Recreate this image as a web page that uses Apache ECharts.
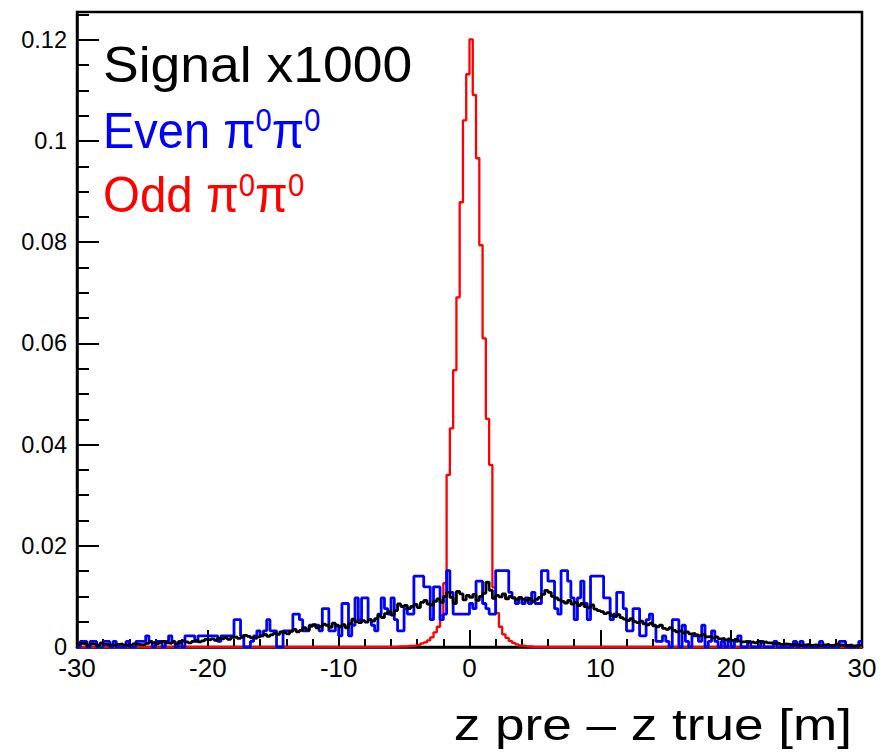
<!DOCTYPE html>
<html>
<head>
<meta charset="utf-8">
<script src="https://cdn.jsdelivr.net/npm/echarts@6/dist/echarts.min.js"></script>
<style>
html,body{margin:0;padding:0;background:#fff;}
#chart{width:881px;height:754px;}
</style>
</head>
<body>
<div id="chart"></div>
<script>
// Histogram binning: 240 bins of width 0.25 from -30 to 30
const xMin = -30, xMax = 30, binWidth = 0.25;
const xTicks = [-30, -20, -10, 0, 10, 20, 30];
const yTicks = [0, 0.02, 0.04, 0.06, 0.08, 0.1, 0.12];
const legendLabels = ["Signal x1000", "Even π", "Odd π"];
const xTitle = "z pre \u2013 z true [m]";

// Signal x1000 (black)
const signalVals = [
0.0005,0.0007,0.0006,0.0004,0.0006,0.0005,0.0003,0.0008,0.0005,0.0004,
0.0004,0.0003,0.0005,0.0006,0.0004,0.0003,0.0004,0.0006,0.0005,0.0004,
0.0005,0.0007,0.0010,0.0008,0.0006,0.0009,0.0011,0.0008,0.0007,0.0010,
0.0006,0.0009,0.0012,0.0010,0.0008,0.0011,0.0013,0.0010,0.0012,0.0015,
0.0014,0.0016,0.0013,0.0017,0.0016,0.0018,0.0015,0.0019,0.0020,0.0017,
0.0019,0.0023,0.0021,0.0018,0.0017,0.0020,0.0022,0.0025,0.0021,0.0024,
0.0027,0.0025,0.0030,0.0028,0.0026,0.0031,0.0035,0.0030,0.0033,0.0038,
0.0034,0.0041,0.0044,0.0038,0.0040,0.0045,0.0043,0.0039,0.0047,0.0042,
0.0040,0.0044,0.0038,0.0046,0.0055,0.0050,0.0048,0.0052,0.0049,0.0054,
0.0051,0.0056,0.0062,0.0058,0.0066,0.0070,0.0063,0.0072,0.0085,0.0080,
0.0082,0.0076,0.0080,0.0084,0.0078,0.0088,0.0092,0.0085,0.0083,0.0090,
0.0095,0.0088,0.0100,0.0108,0.0098,0.0086,0.0110,0.0105,0.0093,0.0102,
0.0098,0.0104,0.0092,0.0100,0.0106,0.0128,0.0112,0.0096,0.0102,0.0099,
0.0105,0.0095,0.0100,0.0097,0.0093,0.0098,0.0094,0.0092,0.0096,0.0090,
0.0094,0.0098,0.0104,0.0112,0.0108,0.0100,0.0097,0.0093,0.0090,0.0087,
0.0092,0.0085,0.0088,0.0082,0.0086,0.0080,0.0078,0.0083,0.0075,0.0072,
0.0070,0.0066,0.0068,0.0062,0.0060,0.0064,0.0058,0.0055,0.0052,0.0056,
0.0050,0.0048,0.0051,0.0046,0.0044,0.0047,0.0042,0.0040,0.0043,0.0037,
0.0035,0.0038,0.0033,0.0030,0.0032,0.0028,0.0030,0.0026,0.0027,0.0024,
0.0022,0.0025,0.0020,0.0021,0.0018,0.0020,0.0016,0.0017,0.0014,0.0016,
0.0013,0.0015,0.0012,0.0010,0.0011,0.0009,0.0010,0.0008,0.0011,0.0009,
0.0010,0.0008,0.0007,0.0006,0.0007,0.0005,0.0006,0.0005,0.0004,0.0005,
0.0004,0.0003,0.0004,0.0005,0.0003,0.0004,0.0003,0.0002,0.0004,0.0005,
0.0003,0.0004,0.0006,0.0004,0.0003,0.0003,0.0004,0.0002,0.0003,0.0004
];

// Even pi0pi0 (blue)
const evenVals = [
0,0.0011,0.0011,0,0.0011,0.0011,0,0,0.0011,0.0011,
0,0.0011,0,0,0,0.0011,0,0,0.0011,0.0011,
0.0011,0.0022,0.0011,0,0.0011,0.0011,0,0.0011,0.0022,0.0011,
0,0.0011,0,0.0022,0.0022,0.0022,0.0011,0.0022,0.0022,0.0022,
0.0022,0.0022,0.0022,0.0011,0.0022,0.0022,0.0022,0.0022,0.0054,0.0054,
0.0022,0,0,0.0011,0.0022,0.0032,0.0022,0.0032,0.0054,0.0032,
0.0032,0,0,0.0032,0.0032,0.0032,0.0065,0.0065,0.0054,0.0032,
0.0032,0.0043,0.0043,0.0043,0.0032,0.0076,0.0076,0.0032,0.0032,0.0043,
0.0022,0.0086,0.0086,0.0022,0.0043,0.0097,0.0054,0.0097,0.0097,0.0054,
0.0043,0.0032,0.0065,0.0097,0.0076,0.0065,0.0097,0.0054,0.0032,0.0032,
0.0076,0.0065,0.0065,0.0140,0.0140,0.0140,0.0119,0.0119,0.0054,0.0119,
0.0119,0.0054,0.0065,0.0151,0.0108,0.0065,0.0065,0.0065,0.0065,0.0065,
0.0086,0.0076,0.0130,0.0130,0.0086,0.0076,0.0065,0.0065,0.0151,0.0151,
0.0151,0.0151,0.0108,0.0097,0.0086,0.0097,0.0086,0.0097,0.0086,0.0108,
0.0086,0.0086,0.0151,0.0151,0.0130,0.0130,0.0076,0.0065,0.0151,0.0151,
0.0130,0.0097,0.0054,0.0097,0.0130,0.0086,0.0054,0.0140,0.0140,0.0140,
0.0140,0.0097,0.0097,0.0054,0.0065,0.0108,0.0108,0.0076,0.0032,0.0032,
0.0076,0.0076,0.0022,0.0022,0.0054,0.0065,0.0043,0.0011,0.0011,0.0022,
0.0011,0,0.0054,0.0054,0,0.0043,0.0011,0,0.0022,0.0022,
0.0011,0.0043,0,0.0011,0.0032,0.0011,0,0.0011,0,0.0011,
0,0.0011,0.0022,0,0,0.0011,0,0,0,0.0011,
0,0,0,0.0011,0,0,0,0,0,0.0011,
0,0.0011,0,0,0,0,0,0.0011,0,0,
0,0,0,0.0011,0.0011,0,0,0,0,0.0011
];

// Odd pi0pi0 (red)
const oddVals = [
0,0,0,0,0,0,0,0,0,0,
0,0,0,0,0,0,0,0,0,0,
0,0,0,0,0,0,0,0,0,0,
0,0,0,0,0,0,0,0,0,0,
0,0,0,0,0,0,0,0,0,0,
0,0,0,0,0,0,0,0,0,0,
0,0,0,0,0,0,0,0,0,0,
0,0,0,0,0,0,0,0,0,0,
0,0,0,0,0,0,0,0,0,0,
0,0,0,0,0,0,0,0,0.0001,0.0001,
0.0001,0.0002,0.0002,0.0003,0.0004,0.0007,0.0009,0.0013,0.0019,0.0029,
0.0040,0.0062,0.0126,0.0340,0.0432,0.0547,0.0691,0.0879,0.1041,0.1132,
0.1201,0.1091,0.0966,0.0794,0.0610,0.0451,0.0360,0.0118,0.0067,0.0040,
0.0025,0.0018,0.0012,0.0008,0.0005,0.0003,0.0002,0.0001,0.0001,0,
0,0,0,0,0,0,0,0,0,0,
0,0,0,0,0,0,0,0,0,0,
0,0,0,0,0,0,0,0,0,0,
0,0,0,0,0,0,0,0,0,0,
0,0,0,0,0,0,0,0,0,0,
0,0,0,0,0,0,0,0,0,0,
0,0,0,0,0,0,0,0,0,0,
0,0,0,0,0,0,0,0,0,0,
0,0,0,0,0,0,0,0,0,0,
0,0,0,0,0,0,0,0,0,0
];

function histSteps(vals) {
  const pts = vals.map((v, i) => [xMin + i * binWidth, v]);
  pts.push([xMin + vals.length * binWidth, vals[vals.length - 1]]);
  return pts;
}

const chart = echarts.init(document.getElementById('chart'), null, {renderer: 'svg'});
const FONT = '"Liberation Sans", Arial, Helvetica, sans-serif';
const yMax = 0.1255;

function histSeries(name, vals, color, width, z) {
  return {
    name: name, type: 'line', step: 'end', data: histSteps(vals),
    symbol: 'none', showSymbol: false, silent: true, animation: false, z: z,
    lineStyle: {color: color, width: width}, clip: true
  };
}

function legendRich(color) {
  return {
    n: {fontSize: 50, fontFamily: FONT, fill: color, lineHeight: 50},
    s: {fontSize: 31, fontFamily: FONT, fill: color, verticalAlign: 'top', lineHeight: 31}
  };
}

const option = {
  animation: false,
  backgroundColor: '#ffffff',
  grid: {left: 77, right: 19, top: 12, bottom: 107, show: true, borderColor: '#000', borderWidth: 2.5, backgroundColor: 'transparent'},
  xAxis: {
    type: 'value', min: xMin, max: xMax, interval: 10,
    axisLine: {show: true, onZero: false, lineStyle: {color: '#000', width: 2.5}},
    axisTick: {show: true, inside: true, length: 17, lineStyle: {color: '#000', width: 2}},
    minorTick: {show: true, splitNumber: 5, length: 8, lineStyle: {color: '#000', width: 2}},
    splitLine: {show: false},
    axisLabel: {color: '#000', fontSize: 26, fontFamily: FONT, margin: 8,
      formatter: v => xTicks.indexOf(v) >= 0 ? String(v) : ''}
  },
  yAxis: [{
    type: 'value', min: 0, max: yMax, interval: 0.02,
    axisLine: {show: true, onZero: false, lineStyle: {color: '#000', width: 2.5}},
    axisTick: {show: true, inside: true, length: 22, lineStyle: {color: '#000', width: 2}},
    splitLine: {show: false},
    axisLabel: {color: '#000', fontSize: 23.5, fontFamily: FONT, margin: 10, showMaxLabel: false,
      formatter: v => { const t = yTicks.find(k => Math.abs(k - v) < 1e-9); return t === undefined ? '' : String(t); }}
  }, {
    type: 'value', min: 0, max: yMax, interval: 0.005, position: 'left',
    axisLine: {show: false, onZero: false},
    axisTick: {show: true, inside: true, length: 12, lineStyle: {color: '#000', width: 2}},
    splitLine: {show: false},
    axisLabel: {show: false}
  }],
  series: [
    histSeries('Odd', oddVals, '#ff0000', 2.3, 2),
    histSeries('Even', evenVals, '#0000ff', 2.8, 3),
    histSeries('Signal', signalVals, '#000000', 2.8, 4)
  ],
  graphic: [
    {type: 'text', x: 103, y: 40, scaleX: 1.07, z: 10,
      style: {text: legendLabels[0], fill: '#000', font: '50px ' + FONT, align: 'left', verticalAlign: 'top'}},
    {type: 'text', x: 103, y: 105, scaleX: 0.94, z: 10, style: {
      text: '{n|' + legendLabels[1] + '}{s|0}{n|π}{s|0}', fill: '#0000ff', rich: legendRich('#0000ff'), align: 'left', verticalAlign: 'top'}},
    {type: 'text', x: 103, y: 170, scaleX: 0.95, z: 10, style: {
      text: '{n|' + legendLabels[2] + '}{s|0}{n|π}{s|0}', fill: '#ff0000', rich: legendRich('#ff0000'), align: 'left', verticalAlign: 'top'}},
    {type: 'text', x: 852, y: 701, scaleX: 1.18, z: 10,
      style: {text: xTitle, fill: '#000', font: '45px ' + FONT, align: 'right', verticalAlign: 'top'}}
  ]
};
chart.setOption(option);
</script>
</body>
</html>
